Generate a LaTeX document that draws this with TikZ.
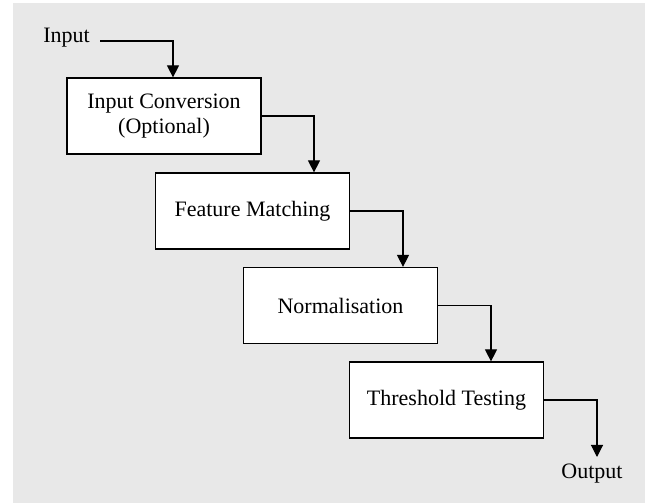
\documentclass[tikz,border=0pt]{standalone}
\usepackage{fontspec}
\setmainfont{Liberation Serif}
\usetikzlibrary{arrows.meta,calc}
\begin{document}
\begin{tikzpicture}[x=1pt,y=1pt,
  every node/.style={font=\fontsize{22}{25}\selectfont},
  stage/.style={draw=black,line width=1.2pt,fill=white,minimum width=194pt,
    minimum height=76pt,align=center,inner sep=0pt},
  flow/.style={line width=1.1pt,-{Triangle[length=12pt,width=12pt]}},
  label/.style={inner sep=2pt}]
  \useasboundingbox (0,0) rectangle (649,503);
  \fill[black!9] (13,0) rectangle (645,500);

  % processing stages, stepping down to the right
  \node[stage] (conv)  at (164,387)   {Input Conversion\\(Optional)};
  \node[stage] (match) at (252.5,292) {Feature Matching};
  \node[stage] (norm)  at (340.5,197.5) {Normalisation};
  \node[stage] (thr)   at (446.5,103) {Threshold Testing};

  % terminal labels
  \node[label,anchor=east] (in) at (92,465) {Input};
  \node[label] (out) at (592,29) {Output};

  % connectors: each leaves to the right, then drops onto the next stage
  \coordinate (t0) at ($(conv.north)+(9,0)$);
  \coordinate (t1) at ($(match.north)+(61.5,0)$);
  \coordinate (t2) at ($(norm.north)+(62.5,0)$);
  \coordinate (t3) at ($(thr.north)+(44.5,0)$);
  \coordinate (t4) at (597,46);

  \draw[flow] ($(in.east)+(8,-3)$) -| (t0);
  \draw[flow] (conv.east) -| (t1);
  \draw[flow] (match.east) -| (t2);
  \draw[flow] (norm.east) -| (t3);
  \draw[flow] (thr.east) -| (t4);
\end{tikzpicture}
\end{document}
